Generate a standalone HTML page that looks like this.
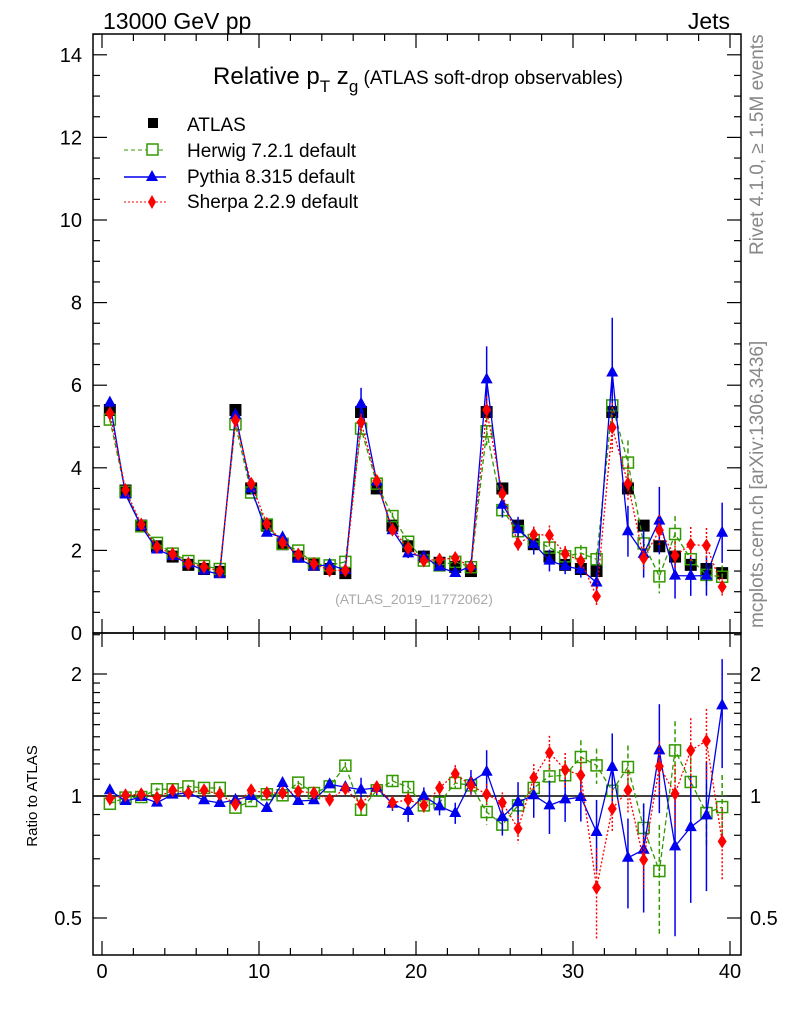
<!DOCTYPE html>
<html><head><meta charset="utf-8"><style>
body{margin:0;background:#fff}
svg text{font-family:"Liberation Sans",Arial,sans-serif}
</style></head><body>
<svg id="c" xmlns="http://www.w3.org/2000/svg" width="786" height="1024" viewBox="0 0 786 1024">
<text x="103" y="29" font-size="23">13000 GeV pp</text>
<text x="730" y="29" font-size="23" text-anchor="end">Jets</text>
<text x="418" y="84" font-size="24" text-anchor="middle">Relative p<tspan font-size="17" dy="8">T</tspan><tspan dy="-8"> z</tspan><tspan font-size="17" dy="8">g</tspan><tspan dy="-8" font-size="19"> (ATLAS soft-drop observables)</tspan></text>
<text x="414" y="604" font-size="14" fill="#aaa" text-anchor="middle">(ATLAS_2019_I1772062)</text>
<text transform="translate(763,255) rotate(-90)" font-size="19" fill="#888">Rivet 4.1.0, ≥ 1.5M events</text>
<text transform="translate(763,628) rotate(-90)" font-size="19" fill="#888">mcplots.cern.ch [arXiv:1306.3436]</text>
<text transform="translate(37,796) rotate(-90)" font-size="15" text-anchor="middle">Ratio to ATLAS</text>
<g>
<rect x="148" y="118" width="10" height="10" fill="#000"/>
<text x="187" y="131" font-size="19">ATLAS</text>
<line x1="124" y1="150" x2="166" y2="150" stroke="#339900" stroke-dasharray="4,3"/>
<rect x="147" y="144" width="11" height="11" fill="#fff" stroke="#339900" stroke-width="1.5"/>
<text x="187" y="157" font-size="19">Herwig 7.2.1 default</text>
<line x1="124" y1="177" x2="166" y2="177" stroke="#0000ee" stroke-width="1.5"/>
<polygon points="152,170 158,181 146,181" fill="#0000ee"/>
<text x="187" y="183" font-size="19">Pythia 8.315 default</text>
<line x1="124" y1="202" x2="166" y2="202" stroke="#ff0000" stroke-dasharray="2,2"/>
<polygon points="152,195 156,202 152,209 148,202" fill="#ff0000"/>
<text x="187" y="208" font-size="19">Sherpa 2.2.9 default</text>
</g>
<g id="plot"></g>
</svg>
<script>
const bins=[0.5,1.5,2.5,3.5,4.5,5.5,6.5,7.5,8.5,9.5,10.5,11.5,12.5,13.5,14.5,15.5,16.5,17.5,18.5,19.5,20.5,21.5,22.5,23.5,24.5,25.5,26.5,27.5,28.5,29.5,30.5,31.5,32.5,33.5,34.5,35.5,36.5,37.5,38.5,39.5];
const atlas=[5.4,3.45,2.6,2.1,1.85,1.65,1.55,1.48,5.4,3.5,2.6,2.15,1.85,1.65,1.55,1.45,5.35,3.5,2.6,2.1,1.85,1.7,1.6,1.5,5.35,3.5,2.6,2.15,1.85,1.65,1.55,1.5,5.35,3.5,2.6,2.1,1.85,1.65,1.55,1.45];
const herwigRatio=[0.957,0.991,0.994,1.039,1.039,1.056,1.047,1.047,0.936,0.972,1.01,1.004,1.079,1.017,1.056,1.188,0.925,1.033,1.089,1.052,0.948,0.963,1.077,1.062,0.913,0.85,0.948,1.047,1.118,1.125,1.248,1.19,1.03,1.179,0.834,0.653,1.296,1.083,0.908,0.939];
const pythiaRatio=[1.033,0.972,0.994,0.963,1.008,1.019,0.976,0.961,0.978,1.0,0.934,1.077,0.972,0.976,1.068,1.052,1.037,1.047,0.957,0.918,1.0,0.943,0.908,1.083,1.148,0.887,0.966,1.004,0.948,0.981,0.994,0.815,1.179,0.704,0.737,1.296,0.751,0.838,0.896,1.674];
const sherpaRatio=[0.985,1.004,1.01,0.991,1.033,1.017,1.033,1.01,0.954,1.033,1.017,1.017,1.027,1.017,0.979,1.043,0.954,1.052,0.963,0.979,0.948,1.047,1.135,1.062,1.01,0.963,0.831,1.11,1.279,1.161,1.125,0.594,0.93,1.033,0.696,1.184,1.013,1.296,1.367,0.773];
const herwigErr=[0.01,0.01,0.01,0.01,0.01,0.01,0.01,0.01,0.01,0.01,0.01,0.01,0.01,0.01,0.01,0.02,0.04,0.03,0.03,0.03,0.03,0.03,0.03,0.04,0.07,0.05,0.06,0.07,0.07,0.09,0.1,0.1,0.12,0.13,0.15,0.3,0.18,0.15,0.18,0.2];
const pythiaErr=[0.01,0.01,0.01,0.01,0.01,0.01,0.01,0.01,0.01,0.01,0.01,0.01,0.01,0.01,0.02,0.02,0.07,0.04,0.04,0.06,0.05,0.05,0.06,0.07,0.13,0.1,0.12,0.12,0.15,0.12,0.13,0.2,0.21,0.25,0.3,0.3,0.4,0.35,0.35,0.3];
const sherpaErr=[0.01,0.01,0.01,0.01,0.01,0.01,0.01,0.01,0.01,0.01,0.01,0.01,0.01,0.01,0.01,0.02,0.04,0.03,0.03,0.04,0.04,0.04,0.05,0.05,0.06,0.06,0.08,0.08,0.1,0.1,0.1,0.25,0.12,0.12,0.15,0.15,0.18,0.2,0.2,0.2];
const xTicks=[0,10,20,30,40];
const yTicks=[0,2,4,6,8,10,12,14];
const rTicks=[0.5,1,2];

const NS='http://www.w3.org/2000/svg';
const g=document.getElementById('plot');
const X0=93,X1=741,MT=34,MB=633,RB=955;
const xs=v=>102+15.7*v;
const ym=v=>633-41.3*v;
const yr=r=>796-122*Math.log2(r);
function el(t,a,p){const e=document.createElementNS(NS,t);for(const k in a)e.setAttribute(k,a[k]);(p||g).appendChild(e);return e;}
function clip(id,y0,y1){const d=el('clipPath',{id:id});el('rect',{x:X0,y:y0,width:X1-X0,height:y1-y0},d);}
clip('cm',MT,MB);clip('cr',MB,RB);
const gm=el('g',{'clip-path':'url(#cm)'});


const gr=el('g',{'clip-path':'url(#cr)'});


const one=el('line',{x1:X0,x2:X1,y1:yr(1),y2:yr(1),stroke:'#000','stroke-width':1.5},gr);



const series=[
 {name:'herwig',r:herwigRatio,e:herwigErr,c:'#339900',dash:'5,3',m:'sq'},
 {name:'pythia',r:pythiaRatio,e:pythiaErr,c:'#0000ee',dash:null,m:'tri'},
 {name:'sherpa',r:sherpaRatio,e:sherpaErr,c:'#ff0000',dash:'2,2',m:'dia'}
];
function marker(p,type,x,y,c){
 let e;
 if(type==='sq')e=el('rect',{x:x-5.5,y:y-5.5,width:11,height:11,fill:'none',stroke:c,'stroke-width':1.5},p);
 else if(type==='tri')e=el('polygon',{points:`${x},${y-7} ${x+6},${y+4} ${x-6},${y+4}`,fill:c},p);
 else if(type==='dia')e=el('polygon',{points:`${x},${y-7} ${x+4.5},${y} ${x},${y+7} ${x-4.5},${y}`,fill:c},p);
 return e;
}
atlas.forEach((v,i)=>{
 const r=el('rect',{x:xs(bins[i])-6,y:ym(v)-6,width:12,height:12,fill:'#000'},gm);
 
 
});
series.forEach(s=>{
 [[gm,v=>ym(v),i=>atlas[i]*s.r[i]],[gr,v=>yr(v),i=>s.r[i]]].forEach(([p,fy,val])=>{
  const sg=el('g',{},p);
  
  
  let d='';
  bins.forEach((b,i)=>{d+=(i?'L':'M')+xs(b)+','+fy(val(i));});
  const a={d:d,fill:'none',stroke:s.c,'stroke-width':1.3};
  if(s.dash)a['stroke-dasharray']=s.dash;
  const ln=el('path',a,sg);
  
  
  bins.forEach((b,i)=>{
   const v=val(i),x=xs(b),err=v*s.e[i];
   const ea={x1:x,x2:x,y1:fy(v+err),y2:fy(Math.max(v-err,0.01)),stroke:s.c,'stroke-width':1.5};
   if(s.dash)ea['stroke-dasharray']=s.dash;
   const eb=el('line',ea,sg);
   
   
   const m=marker(sg,s.m,x,fy(v),s.c);
   
   
  });
 });
});
[[MT,MB],[MB,RB]].forEach(([a,b],k)=>{
 const f=el('rect',{x:X0,y:a,width:X1-X0,height:b-a,fill:'none',stroke:'#000','stroke-width':1.5});
 
 
});
const tg=el('g',{stroke:'#000','stroke-width':1.2});


for(let v=0;v<=40;v+=2){
 const big=xTicks.includes(v),L=big?14:7,x=xs(v);
 [[MT,1],[MB,-1],[MB,1],[RB,-1]].forEach(([y,d])=>el('line',{x1:x,x2:x,y1:y,y2:y+d*L},tg));
}
xTicks.forEach(v=>{
 const t=el('text',{x:xs(v),y:978,'font-size':20,'text-anchor':'middle'});t.textContent=v;
 
 
});
for(let v=0;v<=14.5;v+=0.5){
 const big=yTicks.includes(v),L=big?14:7,y=ym(v);
 el('line',{x1:X0,x2:X0+L,y1:y,y2:y},tg);el('line',{x1:X1,x2:X1-L,y1:y,y2:y},tg);
}
yTicks.forEach(v=>{
 const t=el('text',{x:82,y:ym(v)+7,'font-size':20,'text-anchor':'end'});t.textContent=v;
 
 
});
for(let k=4;k<=25;k++){
 const r=k/10;if(r>2&&k%5)continue;
 const big=rTicks.includes(r),L=big?14:7,y=yr(r);
 if(y<MB||y>RB)continue;
 el('line',{x1:X0,x2:X0+L,y1:y,y2:y},tg);el('line',{x1:X1,x2:X1-L,y1:y,y2:y},tg);
}
rTicks.forEach(r=>{
 const lab=String(r);
 const t=el('text',{x:82,y:yr(r)+7,'font-size':20,'text-anchor':'end'});t.textContent=lab;
 
 
 const t2=el('text',{x:750,y:yr(r)+7,'font-size':20});t2.textContent=lab;
 
 
});
</script>
</body></html>
